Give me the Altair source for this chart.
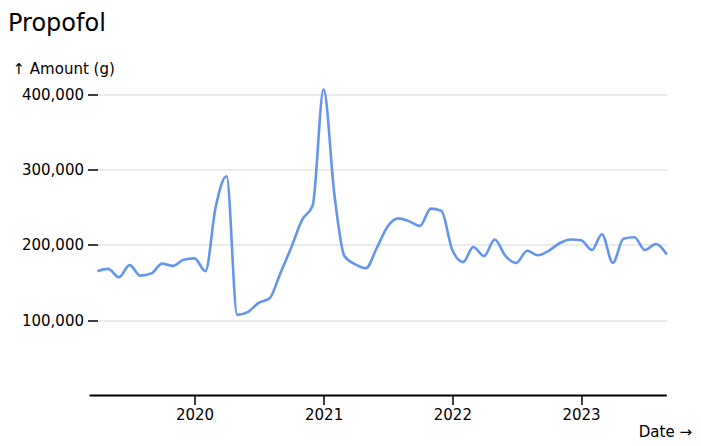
import altair as alt
import pandas as pd

# Monthly propofol amounts (g), April 2019 - September 2023
months = pd.date_range("2019-04-01", periods=54, freq="MS").strftime("%Y-%m-%d").tolist()
amounts = [
    165000, 168000, 157000, 173000, 159000, 162000, 175000, 172000, 180000,
    182000, 165000, 250000, 291000, 107000, 111000, 123000, 129000, 163000, 196000, 233000, 252000,
    406000, 265000, 185000, 174000, 169000, 196000, 224000, 235000, 231000, 225000, 248000, 245000,
    193000, 177000, 197000, 185000, 207000, 185000, 176000, 192000, 186000, 192000, 202000, 207000,
    206000, 193000, 214000, 176000, 208000, 210000, 193000, 201000, 187000,
]
y_ticks = [100000, 200000, 300000, 400000]
x_tick_years = [2020, 2021, 2022, 2023]
title_text = "Propofol"

df = pd.DataFrame({"date": months, "amount": amounts})

W = 569.3
H = 306
FONT = "DejaVu Sans"

x_enc = alt.X(
    "date:T",
    scale=alt.Scale(nice=False),
    axis=alt.Axis(
        title="Date →",
        format="%Y",
        values=[alt.DateTime(year=y, month=1, date=1) for y in x_tick_years],
        tickSize=9, tickColor="black", tickWidth=1.5,
        domain=False, grid=False,
        labelFontSize=15, labelColor="black", labelPadding=3, labelFont=FONT,
        titleFontSize=15, titleFontWeight="normal", titleColor="black", titleFont=FONT,
        titleX=594, titleY=41, titleAlign="right", titleBaseline="alphabetic",
    ),
)
y_enc = alt.Y(
    "amount:Q",
    scale=alt.Scale(domain=[0, max(amounts)], nice=False),
    axis=alt.Axis(
        title="↑ Amount (g)",
        values=y_ticks, format=",.0f",
        tickSize=10, tickColor="black", tickWidth=1.5,
        domain=False, grid=True, gridColor="#e4e4e4", gridWidth=1.5,
        labelFontSize=15, labelColor="black", labelPadding=4, labelFont=FONT,
        titleFontSize=15, titleFontWeight="normal", titleColor="black", titleFont=FONT,
        titleAngle=0, titleX=-85.5, titleY=-16.5, titleAlign="left", titleBaseline="alphabetic",
    ),
)

rule = alt.Chart(pd.DataFrame({"amount": [0]})).mark_rule(color="black", strokeWidth=1.8).encode(
    y="amount:Q", x=alt.value(-8), x2=alt.value(W)
)

line = alt.Chart(df).mark_line(interpolate="monotone", color="#6495ED", strokeWidth=2.6).encode(
    x=x_enc, y=y_enc
)

title = alt.Chart(pd.DataFrame({"t": [title_text]})).mark_text(
    align="left", baseline="alphabetic", fontSize=24, font=FONT, color="black"
).encode(text="t:N", x=alt.value(-89.5), y=alt.value(-59))

chart = alt.layer(rule, line, title).properties(
    width=W,
    height=H,
    autosize=alt.AutoSizeParams(type="none"),
    padding={"left": 89.5, "top": 81.5, "right": 26.2, "bottom": 48},
).configure(font=FONT).configure_view(stroke=None)

chart.save("out.html", embed_options={"renderer": "svg", "actions": False})
